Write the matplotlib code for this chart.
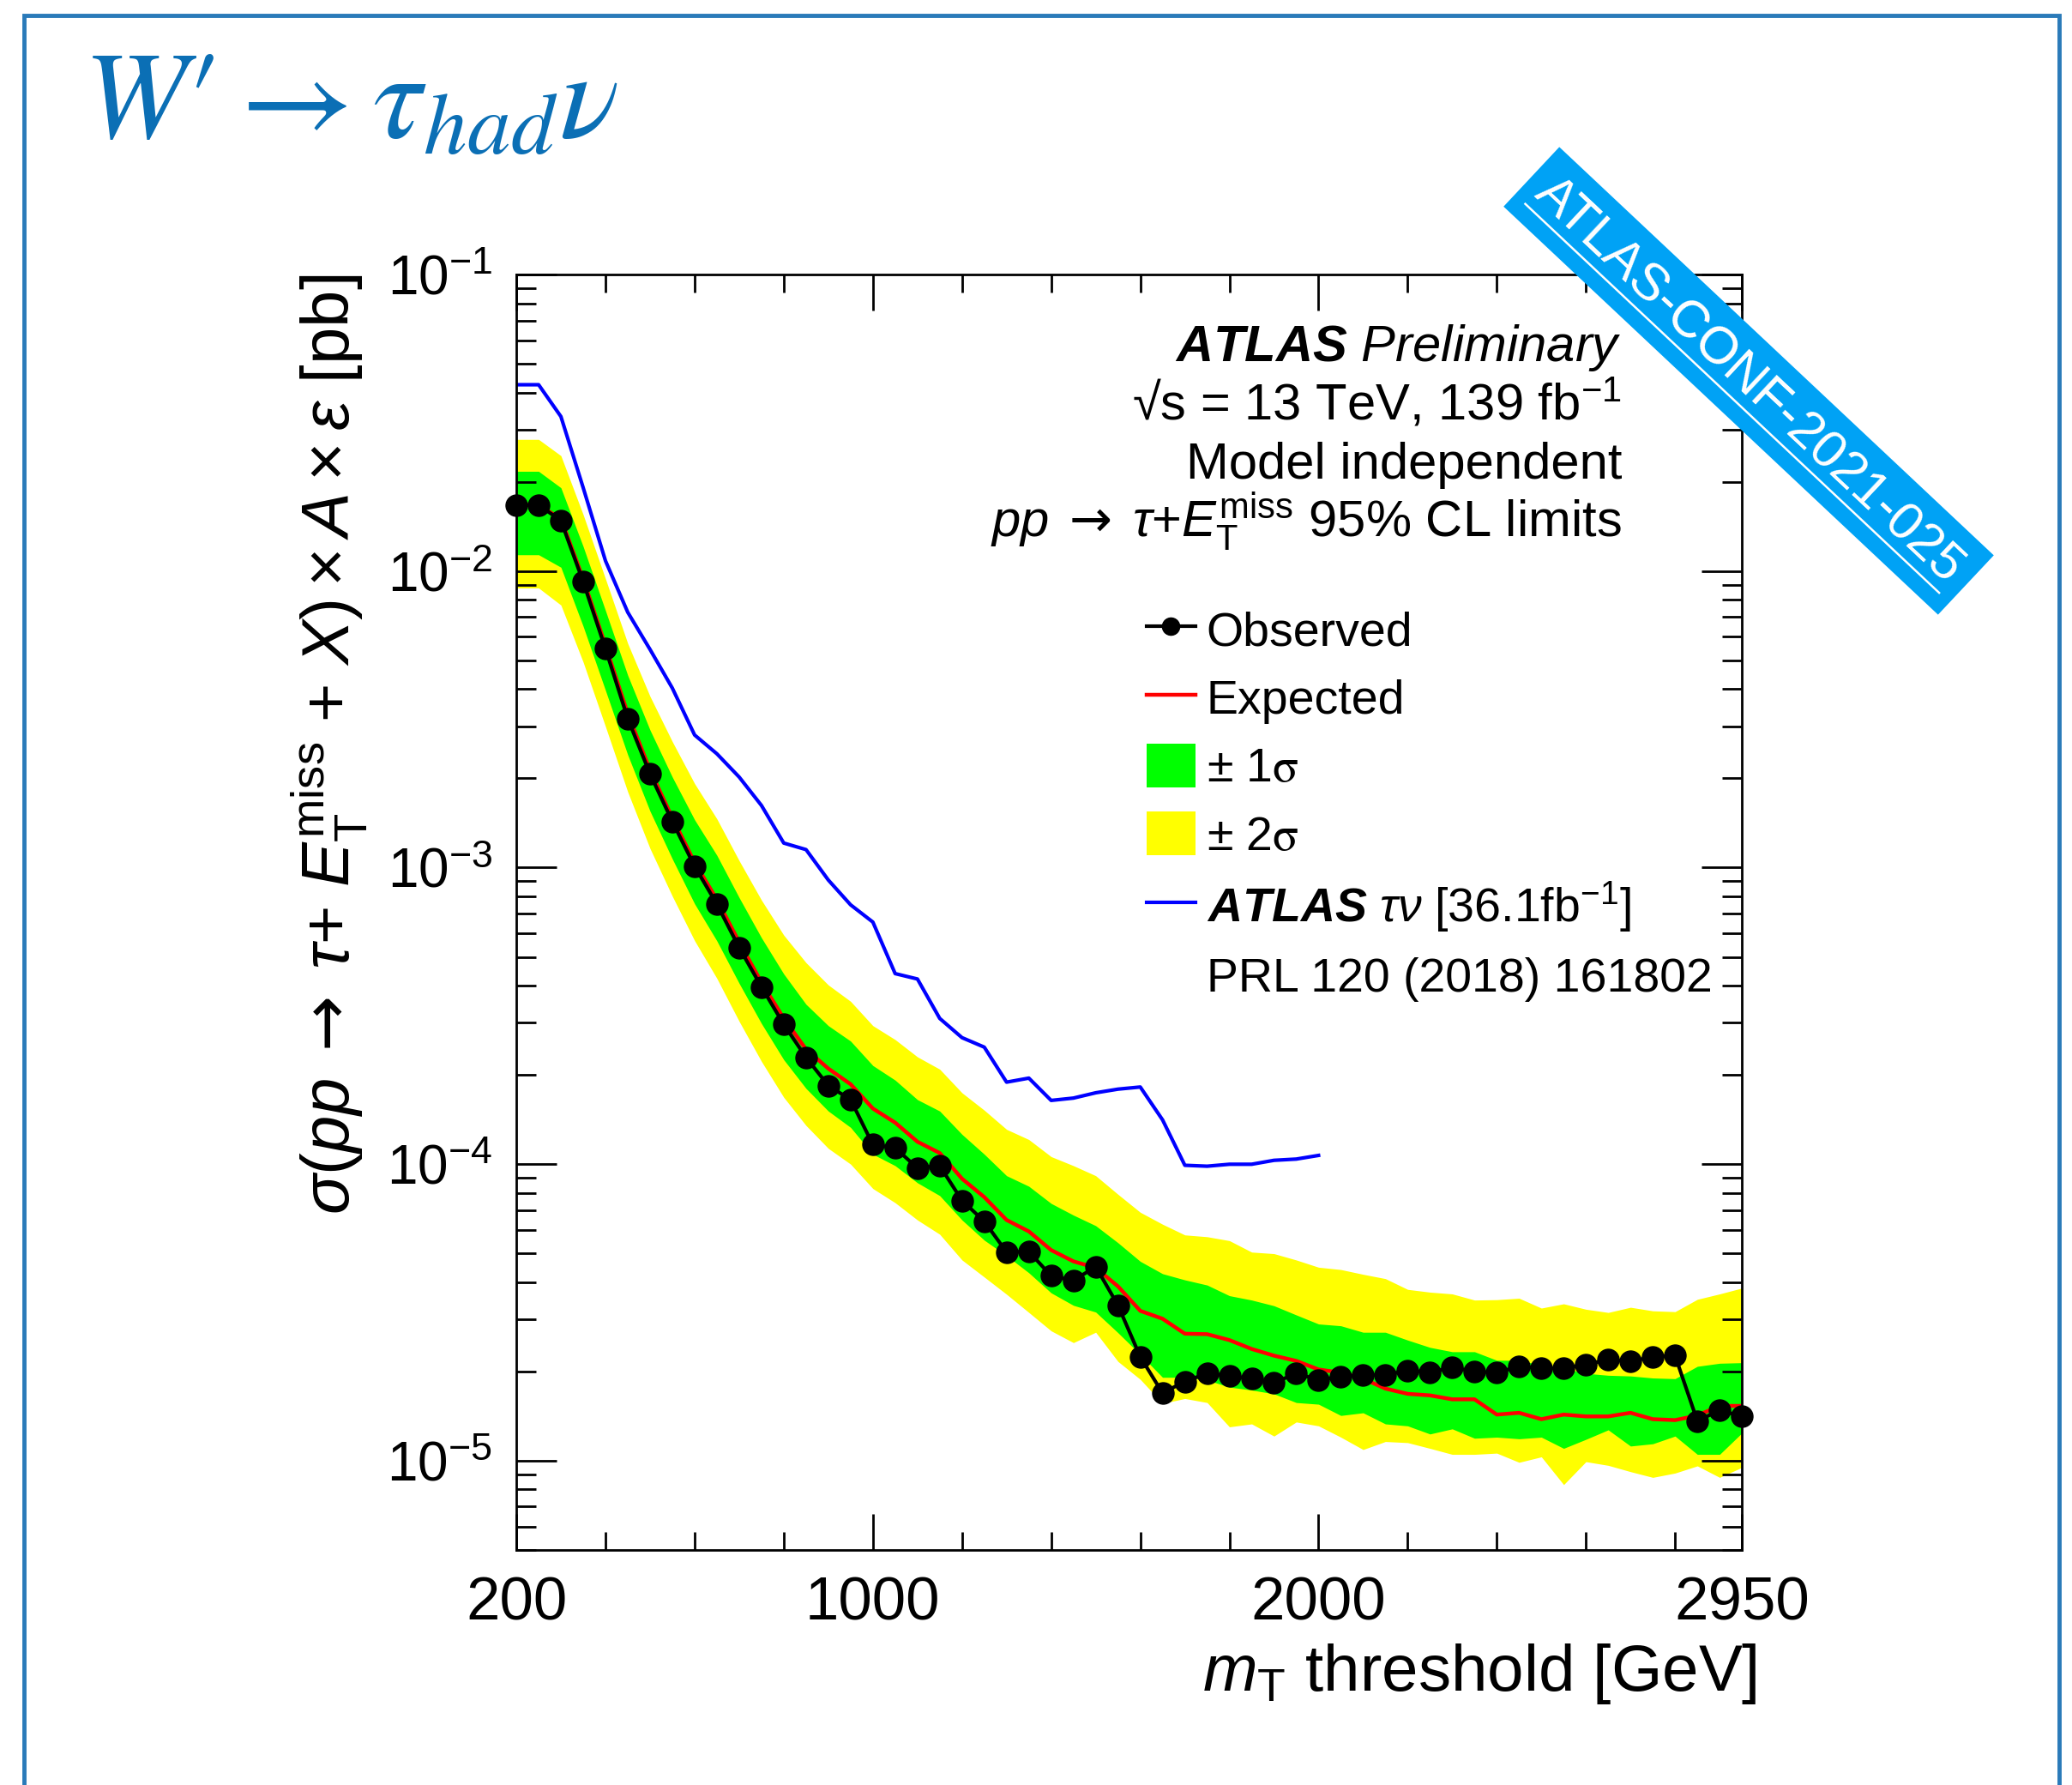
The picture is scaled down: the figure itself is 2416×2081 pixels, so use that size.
import matplotlib
matplotlib.use("Agg")
import matplotlib.pyplot as plt
from matplotlib.lines import Line2D
from matplotlib.patches import Patch, Polygon, Rectangle

plt.rcParams['font.family'] = ['Liberation Sans', 'DejaVu Sans']
plt.rcParams['mathtext.fontset'] = 'custom'
plt.rcParams['mathtext.rm'] = 'Liberation Sans'
plt.rcParams['mathtext.it'] = 'Liberation Sans:italic'
plt.rcParams['mathtext.bf'] = 'Liberation Sans:italic:bold'
plt.rcParams['mathtext.sf'] = 'DejaVu Sans'

# mT threshold scan points [GeV]
mt = [200, 250, 300, 350, 400, 450, 500, 550, 600, 650,
      700, 750, 800, 850, 900, 950, 1000, 1050, 1100, 1150,
      1200, 1250, 1300, 1350, 1400, 1450, 1500, 1550, 1600, 1650,
      1700, 1750, 1800, 1850, 1900, 1950, 2000, 2050, 2100, 2150,
      2200, 2250, 2300, 2350, 2400, 2450, 2500, 2550, 2600, 2650,
      2700, 2750, 2800, 2850, 2900, 2950]

# 95% CL limits on sigma x A x eps [pb]
observed = [0.0167, 0.0167, 0.0148, 0.0092, 0.00547, 0.00318, 0.00207, 0.00143, 0.00101, 0.000753,
            0.000537, 0.000396, 0.000296, 0.000229, 0.000184, 0.000165, 0.0001163, 0.0001134, 9.7e-5, 9.87e-5,
            7.54e-5, 6.41e-5, 5.05e-5, 5.07e-5, 4.2e-5, 4.05e-5, 4.51e-5, 3.34e-5, 2.24e-5, 1.69e-5,
            1.85e-5, 1.97e-5, 1.93e-5, 1.89e-5, 1.83e-5, 1.97e-5, 1.87e-5, 1.92e-5, 1.94e-5, 1.95e-5,
            2.01e-5, 1.99e-5, 2.06e-5, 2.0e-5, 1.98e-5, 2.08e-5, 2.05e-5, 2.05e-5, 2.11e-5, 2.19e-5,
            2.16e-5, 2.24e-5, 2.26e-5, 1.36e-5, 1.48e-5, 1.41e-5]

expected = [0.0167, 0.0167, 0.0150, 0.0094, 0.0056, 0.0033, 0.00213, 0.00147, 0.00104, 0.00078,
            0.00056, 0.00041, 0.00031, 0.000244, 0.00021, 0.000186, 0.000154, 0.000138, 0.000119, 0.000109,
            8.93e-5, 7.74e-5, 6.48e-5, 5.93e-5, 5.13e-5, 4.70e-5, 4.47e-5, 3.87e-5, 3.20e-5, 3.01e-5,
            2.68e-5, 2.67e-5, 2.55e-5, 2.38e-5, 2.26e-5, 2.17e-5, 2.03e-5, 1.98e-5, 1.89e-5, 1.75e-5,
            1.68e-5, 1.66e-5, 1.61e-5, 1.61e-5, 1.43e-5, 1.45e-5, 1.38e-5, 1.43e-5, 1.41e-5, 1.41e-5,
            1.45e-5, 1.38e-5, 1.37e-5, 1.42e-5, 1.53e-5, 1.53e-5]

exp_p1 = [0.0217, 0.0217, 0.0191, 0.0121, 0.00736, 0.00445, 0.00291, 0.00202, 0.00145, 0.00110,
          0.000792, 0.000580, 0.000438, 0.000346, 0.000293, 0.000260, 0.000215, 0.000192, 0.000165, 0.000151,
          1.26e-4, 1.08e-4, 9.14e-5, 8.42e-5, 7.37e-5, 6.73e-5, 6.20e-5, 5.43e-5, 4.70e-5, 4.27e-5,
          4.07e-5, 3.91e-5, 3.60e-5, 3.48e-5, 3.33e-5, 3.10e-5, 2.89e-5, 2.85e-5, 2.71e-5, 2.71e-5,
          2.55e-5, 2.41e-5, 2.33e-5, 2.33e-5, 2.18e-5, 2.18e-5, 2.10e-5, 2.05e-5, 1.97e-5, 1.94e-5,
          1.93e-5, 1.90e-5, 1.89e-5, 2.08e-5, 2.13e-5, 2.14e-5]

exp_m1 = [0.01135, 0.01135, 0.0103, 0.00651, 0.00396, 0.00240, 0.00155, 0.00107, 0.000755, 0.000566,
          0.000407, 0.000298, 0.000225, 0.000180, 0.000151, 0.000133, 0.000108, 9.88e-5, 8.65e-5, 7.83e-5,
          6.48e-5, 5.54e-5, 4.91e-5, 4.30e-5, 3.68e-5, 3.34e-5, 3.17e-5, 2.70e-5, 2.28e-5, 1.91e-5,
          1.91e-5, 1.87e-5, 1.77e-5, 1.73e-5, 1.68e-5, 1.57e-5, 1.55e-5, 1.42e-5, 1.45e-5, 1.33e-5,
          1.31e-5, 1.23e-5, 1.28e-5, 1.19e-5, 1.20e-5, 1.185e-5, 1.20e-5, 1.10e-5, 1.18e-5, 1.27e-5,
          1.12e-5, 1.14e-5, 1.21e-5, 1.05e-5, 1.05e-5, 1.24e-5]

exp_p2 = [0.0278, 0.0278, 0.0245, 0.0155, 0.00942, 0.00570, 0.00378, 0.00266, 0.00192, 0.00146,
          0.001055, 0.000777, 0.000592, 0.000478, 0.000402, 0.000354, 0.000293, 0.000263, 0.000230, 0.000209,
          1.74e-4, 1.52e-4, 1.31e-4, 1.21e-4, 1.06e-4, 9.88e-5, 9.14e-5, 7.91e-5, 6.88e-5, 6.27e-5,
          5.77e-5, 5.69e-5, 5.52e-5, 5.05e-5, 4.99e-5, 4.75e-5, 4.49e-5, 4.41e-5, 4.25e-5, 4.11e-5,
          3.78e-5, 3.70e-5, 3.65e-5, 3.48e-5, 3.49e-5, 3.53e-5, 3.27e-5, 3.38e-5, 3.24e-5, 3.16e-5,
          3.29e-5, 3.20e-5, 3.18e-5, 3.50e-5, 3.65e-5, 3.82e-5]

exp_m2 = [0.00877, 0.00877, 0.00768, 0.00493, 0.00299, 0.00180, 0.00116, 0.000801, 0.000567, 0.000423,
          0.000303, 0.000222, 0.000168, 0.000135, 0.000113, 0.0001, 8.27e-5, 7.41e-5, 6.48e-5, 5.80e-5,
          4.75e-5, 4.16e-5, 3.64e-5, 3.16e-5, 2.74e-5, 2.50e-5, 2.71e-5, 2.16e-5, 1.88e-5, 1.56e-5,
          1.62e-5, 1.57e-5, 1.30e-5, 1.33e-5, 1.21e-5, 1.35e-5, 1.31e-5, 1.20e-5, 1.09e-5, 1.16e-5,
          1.15e-5, 1.10e-5, 1.05e-5, 1.05e-5, 1.06e-5, 9.87e-6, 1.03e-5, 8.30e-6, 9.92e-6, 9.64e-6,
          9.18e-6, 8.78e-6, 9.08e-6, 9.60e-6, 8.78e-6, 9.49e-6]

# previous ATLAS result, 36.1 fb-1
mt_2018 = [200, 250, 300, 350, 400, 450, 500, 550, 600, 650,
           700, 750, 800, 850, 900, 950, 1000, 1050, 1100, 1150,
           1200, 1250, 1300, 1350, 1400, 1450, 1500, 1550, 1600, 1650,
           1700, 1750, 1800, 1850, 1900, 1950, 2000]
obs_2018 = [0.0425, 0.0425, 0.0332, 0.0191, 0.01083, 0.00726, 0.00544, 0.00403, 0.00280, 0.00242,
            0.00202, 0.00162, 0.00121, 0.00115, 0.000908, 0.000749, 0.000655, 0.000439, 0.000421, 0.000310,
            0.000267, 0.000248, 0.000189, 0.000195, 0.000164, 0.000167, 0.000174, 0.000179, 0.000182, 0.000141,
            9.91e-5, 9.84e-5, 9.99e-5, 9.99e-5, 1.03e-4, 1.04e-4, 1.07e-4]

xticks = [200, 1000, 2000, 2950]
xminor = [400, 600, 800, 1200, 1400, 1600, 1800, 2200, 2400, 2600, 2800]

W, H = 2416, 2081
fig = plt.figure(figsize=(W / 100, H / 100), dpi=100)
ax = fig.add_axes([0.2492, 0.1317, 0.5915, 0.7145])

ax.fill_between(mt, exp_m2, exp_p2, color='#ffff00', lw=0, zorder=1)
ax.fill_between(mt, exp_m1, exp_p1, color='#00ff00', lw=0, zorder=1.5)
ax.plot(mt, expected, color='#ff0000', lw=3.2, zorder=2)
ax.plot(mt_2018, obs_2018, color='#0000ff', lw=3.0, zorder=2)
ax.plot(mt, observed, color='black', lw=3.0, marker='o', ms=18, zorder=4, clip_on=False)

ax.set_yscale('log')
ax.set_xlim(200, 2950)
ax.set_ylim(5e-6, 0.1)
ax.set_xticks(xticks)
ax.set_xticklabels([str(v) for v in xticks])
ax.set_xticks(xminor, minor=True)

for s in ax.spines.values():
    s.set_linewidth(2.0)
    s.set_zorder(5)
ax.tick_params(which='both', direction='in', top=True, right=True, width=2.0)
ax.tick_params(axis='x', labelsize=51)
ax.tick_params(axis='y', labelsize=46)
ax.xaxis.set_tick_params(which='major', length=30, pad=22)
ax.xaxis.set_tick_params(which='minor', length=15)
ax.yaxis.set_tick_params(which='major', length=34, pad=20)
ax.yaxis.set_tick_params(which='minor', length=16.5)

arrow = r'\;\mathsf{\rightarrow}\;'
ax.set_xlabel(r'$m_{\mathrm{T}}$ threshold [GeV]', fontsize=55, loc='right')
ax.xaxis.set_label_coords(1.0126, -0.072)
ax.set_ylabel(r'$\sigma(pp' + arrow + r'\tau$+ $E_{\mathrm{T}}^{\mathrm{miss}}$ + $X) \times A \times \varepsilon$ [pb]',
              fontsize=56, loc='top')
ax.yaxis.set_label_coords(-0.12, 1.0)

# ATLAS label block
tx = 0.902
ax.text(tx, 0.9321, r'$\mathbf{ATLAS}$ $\mathit{Preliminary}$', fontsize=43, ha='right', va='baseline',
        transform=ax.transAxes)
ax.text(tx, 0.8857, r'√s = 13 TeV, 139 fb$^{\mathrm{-1}}$', fontsize=43, ha='right',
        va='baseline', transform=ax.transAxes)
ax.text(tx, 0.8399, 'Model independent', fontsize=43, ha='right', va='baseline', transform=ax.transAxes)
ax.text(tx, 0.7935, r'$pp' + arrow + r'\tau$+$E_{\mathrm{T}}^{\mathrm{miss}}$ 95% CL limits', fontsize=43,
        ha='right', va='baseline', transform=ax.transAxes)

handles = [Line2D([], [], color='black', lw=3.0, marker='o', ms=14.5),
           Line2D([], [], color='#ff0000', lw=3.2),
           Patch(fc='#00ff00', ec='none'),
           Patch(fc='#ffff00', ec='none'),
           Line2D([], [], color='#0000ff', lw=3.0),
           Line2D([], [], ls='none')]
labels = ['Observed', 'Expected', r'± 1$\mathrm{\sigma}$', r'± 2$\mathrm{\sigma}$',
          r'$\mathbf{ATLAS}$ $\tau\nu$ [36.1fb$^{\mathrm{-1}}$]', 'PRL 120 (2018) 161802']
leg = ax.legend(handles, labels, loc='upper left', bbox_to_anchor=(0.514, 0.739), frameon=False, fontsize=40,
                handlelength=1.04, handleheight=1.04, handletextpad=0.22, labelspacing=0.41,
                borderpad=0, borderaxespad=0, numpoints=1)
for t in leg.get_texts()[2:4]:
    t.set_math_fontfamily('stix')

# page decorations
fig.add_artist(Rectangle((28 / W, -0.01), (2401 - 28) / W, 1 - 18 / H + 0.01, fill=False,
                         ec='#2a7ab9', lw=3.5, transform=fig.transFigure))
fig.text(97 / W, 1 - 160 / H, r"$W\prime \rightarrow \tau_{had}\nu$", fontsize=104, color='#0b6fb5',
         math_fontfamily='stix', va='baseline', ha='left')

corners = [(1818.2, 171.4), (2324.8, 647.4), (2259.8, 716.6), (1753.2, 240.8)]
fig.add_artist(Polygon([(x / W, 1 - y / H) for x, y in corners], closed=True,
                       transform=fig.transFigure, fc='#00a2f5', ec='none'))
fig.text(2039 / W, 1 - 444 / H, 'ATLAS-CONF-2021-025', rotation=-43.2, rotation_mode='anchor',
         ha='center', va='center', color='white', fontsize=44)
fig.add_artist(Line2D([1778.5 / W, 2261.1 / W], [1 - 237.7 / H, 1 - 691.1 / H], color='white', lw=1.8,
                      transform=fig.transFigure))

fig.savefig('out.png', dpi=100)
